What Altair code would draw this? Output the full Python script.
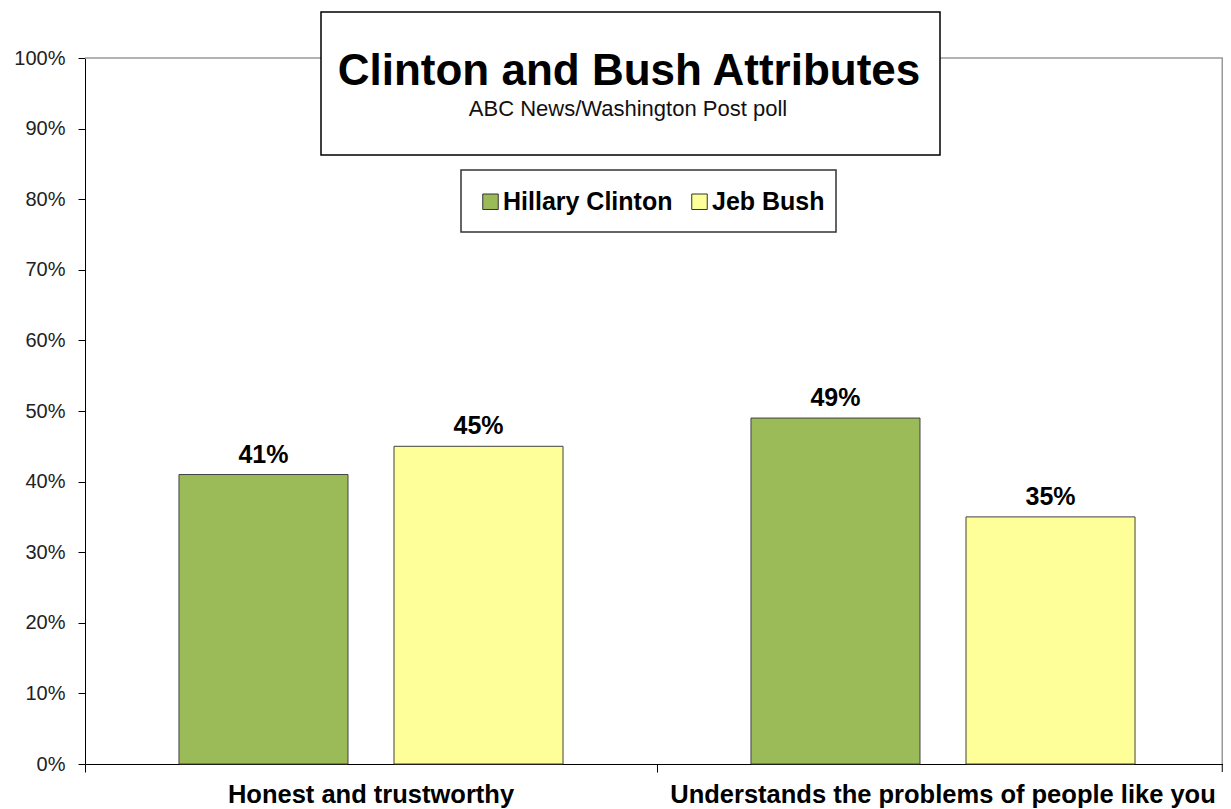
import altair as alt
import pandas as pd

categories = ["Honest and trustworthy", "Understands the problems of people like you"]
candidates = ["Hillary Clinton", "Jeb Bush"]
clinton = [41, 49]
bush = [45, 35]
colors = ["#9BBB59", "#FFFF99"]
y_ticks = list(range(0, 101, 10))
title_text = "Clinton and Bush Attributes"
subtitle_text = "ABC News/Washington  Post poll"

rows = []
for i, c in enumerate(categories):
    rows.append({"category": c, "candidate": candidates[0], "value": clinton[i]})
    rows.append({"category": c, "candidate": candidates[1], "value": bush[i]})
df = pd.DataFrame(rows)
df["label"] = df["value"].astype(str) + "%"

W, H = 1138, 706
XR = 1144
FONT = "Liberation Sans"
one = pd.DataFrame({"d": [0]})

x = alt.X(
    "category:N",
    sort=categories,
    scale=alt.Scale(paddingInner=0, paddingOuter=0, range=[0, XR]),
    axis=alt.Axis(
        title=None, labelFont=FONT, labelFontSize=25.5, labelFontWeight="bold",
        labelColor="black", labelPadding=10, ticks=True, tickSize=8,
        tickColor="black", bandPosition=0, domainColor="black", domainWidth=1,
        labelAngle=0, labelLimit=0, grid=False,
    ),
)
xo = alt.XOffset("candidate:N", sort=candidates,
                 scale=alt.Scale(paddingInner=0.214, paddingOuter=0.437))
y = alt.Y(
    "value:Q",
    scale=alt.Scale(domain=[0, 100], nice=False),
    axis=alt.Axis(
        title=None, values=y_ticks, labelExpr="datum.value + '%'",
        labelFont=FONT, labelFontSize=20, labelColor="#222222",
        labelPadding=13, tickSize=7, tickColor="black", domainColor="black",
        domainWidth=1, grid=False,
    ),
)

bars = alt.Chart(df).mark_bar(stroke="#404040", strokeWidth=1).encode(
    x=x, xOffset=xo, y=y,
    color=alt.Color(
        "candidate:N", sort=candidates,
        scale=alt.Scale(domain=candidates, range=colors),
        legend=alt.Legend(
            title=None, orient="none", legendX=393, legendY=131,
            direction="horizontal", symbolType="square", symbolSize=240,
            symbolStrokeColor="#333333", symbolStrokeWidth=1, symbolOpacity=1,
            labelFont=FONT, labelFontSize=25, labelFontWeight="bold",
            labelColor="black", labelOffset=0, columnPadding=14, padding=0,
            labelLimit=0,
        ),
    ),
)

labels = alt.Chart(df).mark_text(
    font=FONT, fontSize=25, fontWeight="bold", baseline="alphabetic",
    dy=-12, color="black",
).encode(x=x, xOffset=xo, y=y, text="label:N")

top_border = alt.Chart(one).mark_rule(color="#9a9a9a", strokeWidth=1.5).encode(
    x=alt.value(0), x2=alt.value(W), y=alt.value(0))
right_border = alt.Chart(one).mark_rule(color="#9a9a9a", strokeWidth=1.5).encode(
    x=alt.value(W - 0.75), y=alt.value(0), y2=alt.value(H))
right_tick = alt.Chart(one).mark_rule(color="black", strokeWidth=1).encode(
    x=alt.value(W - 0.75), y=alt.value(H), y2=alt.value(H + 8))

title_box = alt.Chart(one).mark_rect(fill="white", stroke="black", strokeWidth=1.5).encode(
    x=alt.value(236), x2=alt.value(855), y=alt.value(-46), y2=alt.value(97))
title = alt.Chart(one).mark_text(
    text=title_text, font=FONT, fontSize=44, fontWeight="bold",
    baseline="alphabetic", align="center", color="black",
).encode(x=alt.value(544), y=alt.value(27))
subtitle = alt.Chart(one).mark_text(
    text=subtitle_text, font=FONT, fontSize=22, baseline="alphabetic",
    align="center", color="#111111",
).encode(x=alt.value(543), y=alt.value(58))
legend_box = alt.Chart(one).mark_rect(fill="white", stroke="#333333", strokeWidth=1.5).encode(
    x=alt.value(376), x2=alt.value(751), y=alt.value(112), y2=alt.value(174))

chart = alt.layer(
    top_border, right_border, right_tick, bars, labels,
    title_box, title, subtitle, legend_box,
).properties(
    width=W, height=H,
    padding={"left": 77, "top": 50, "right": 0, "bottom": 45},
    autosize=alt.AutoSizeParams(type="none"),
    background="white",
).configure_view(stroke=None)

chart.save("out.html", embed_options={"renderer": "svg", "actions": False})
